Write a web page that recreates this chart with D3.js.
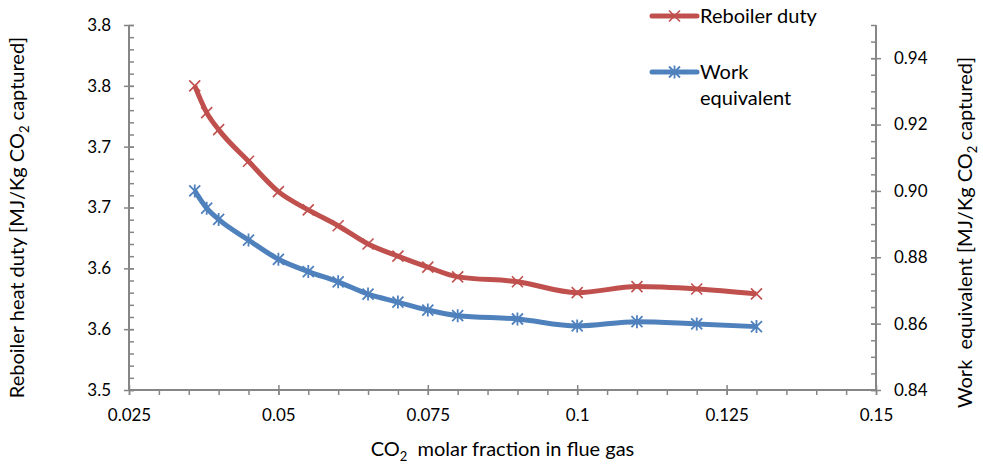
<!DOCTYPE html>
<html>
<head>
<meta charset="utf-8">
<script src="https://cdn.jsdelivr.net/npm/d3@7"></script>
<style>
  body { margin: 0; background: #fff; }
  text { font-family: Lato, "Open Sans", sans-serif; fill: #000; }
</style>
</head>
<body>
<div class="chart"></div>
<script>
var svgWidth = 983;
var svgHeight = 468;

var margin = { top: 25, right: 107, bottom: 78, left: 129 };
var width = svgWidth - margin.left - margin.right;
var height = svgHeight - margin.top - margin.bottom;

// Data
var co2Fraction = [0.036, 0.038, 0.04, 0.045, 0.05, 0.055, 0.06, 0.065, 0.07, 0.075, 0.08, 0.09, 0.1, 0.11, 0.12, 0.13];
var reboilerDuty = [3.750, 3.728, 3.714, 3.688, 3.663, 3.648, 3.635, 3.620, 3.610, 3.601, 3.593, 3.589, 3.580, 3.585, 3.583, 3.579];
var workEquivalent = [0.900, 0.8948, 0.8914, 0.8852, 0.8794, 0.8757, 0.8726, 0.8689, 0.8665, 0.8641, 0.8624, 0.8614, 0.8593, 0.8606, 0.8599, 0.8591];

var xTicks = [0.025, 0.05, 0.075, 0.1, 0.125, 0.15];
var leftTicks = [3.5, 3.55, 3.6, 3.65, 3.7, 3.75, 3.8];
var rightTicks = [0.84, 0.86, 0.88, 0.90, 0.92, 0.94];

var red = "#C0504D";
var blue = "#4F81BD";
var axisColor = "#868686";

var svg = d3.select(".chart")
  .append("svg")
  .attr("width", svgWidth)
  .attr("height", svgHeight);

var chartGroup = svg.append("g")
  .attr("transform", `translate(${margin.left}, ${margin.top})`);

// Scales
var xScale = d3.scaleLinear().domain([0.025, 0.15]).range([0, width]);
var yLeft = d3.scaleLinear().domain([3.5, 3.8]).range([height, 0]);
var yRight = d3.scaleLinear().domain([0.84, 0.95]).range([height, 0]);

// Minor ticks first
function minorTicks(step, start, end) {
  var out = [];
  for (var i = 0; start + i * step <= end + 1e-9; i++) out.push(+(start + i * step).toFixed(5));
  return out;
}

chartGroup.append("g")
  .attr("transform", `translate(0, ${height})`)
  .call(d3.axisBottom(xScale).tickValues(minorTicks(0.005, 0.025, 0.15)).tickSize(5).tickFormat(""))
  .call(g => g.select(".domain").remove());

chartGroup.append("g")
  .call(d3.axisRight(yLeft).tickValues(minorTicks(0.01, 3.5, 3.8)).tickSize(5).tickFormat(""))
  .call(g => g.select(".domain").remove());

chartGroup.append("g")
  .attr("transform", `translate(${width}, 0)`)
  .call(d3.axisLeft(yRight).tickValues(minorTicks(0.005, 0.84, 0.95)).tickSize(5).tickFormat(""))
  .call(g => g.select(".domain").remove());

// Major axes (Excel shows the left labels rounded half up to one decimal)
var bottomAxis = d3.axisBottom(xScale).tickValues(xTicks).tickSize(5).tickPadding(14)
  .tickFormat(d => String(+d.toFixed(3)));
var leftAxis = d3.axisLeft(yLeft).tickValues(leftTicks).tickSize(5).tickPadding(13)
  .tickFormat(d => (Math.round(d * 10 + 1e-6) / 10).toFixed(1));
var rightAxis = d3.axisRight(yRight).tickValues(rightTicks).tickSize(5).tickPadding(13)
  .tickFormat(d3.format(".2f"));

var xAxisG = chartGroup.append("g").attr("transform", `translate(0, ${height})`).call(bottomAxis);
var lAxisG = chartGroup.append("g").call(leftAxis);
var rAxisG = chartGroup.append("g").attr("transform", `translate(${width}, 0)`).call(rightAxis);

[xAxisG, lAxisG, rAxisG].forEach(function(g) {
  g.selectAll("text").style("font-size", "17px");
  g.select(".domain").attr("d", null);
});
xAxisG.selectAll(".tick line").attr("y1", -5);
lAxisG.selectAll(".tick line").attr("x1", 5);
rAxisG.selectAll(".tick line").attr("x1", -5);

chartGroup.selectAll(".tick line").attr("stroke", axisColor).attr("stroke-width", 1.5);

// axis lines
chartGroup.append("line").attr("x1", 0).attr("x2", width).attr("y1", height).attr("y2", height)
  .attr("stroke", axisColor).attr("stroke-width", 2);
chartGroup.append("line").attr("x1", 0).attr("x2", 0).attr("y1", 0).attr("y2", height)
  .attr("stroke", axisColor).attr("stroke-width", 2);
chartGroup.append("line").attr("x1", width).attr("x2", width).attr("y1", 0).attr("y2", height)
  .attr("stroke", axisColor).attr("stroke-width", 2);

// Lines
var redData = co2Fraction.map((x, i) => ({ x: x, y: reboilerDuty[i] }));
var blueData = co2Fraction.map((x, i) => ({ x: x, y: workEquivalent[i] }));

var redLine = d3.line().x(d => xScale(d.x)).y(d => yLeft(d.y)).curve(d3.curveMonotoneX);
var blueLine = d3.line().x(d => xScale(d.x)).y(d => yRight(d.y)).curve(d3.curveMonotoneX);

chartGroup.append("path").datum(redData).attr("d", redLine)
  .attr("fill", "none").attr("stroke", red).attr("stroke-width", 5).attr("stroke-linejoin", "round");
chartGroup.append("path").datum(blueData).attr("d", blueLine)
  .attr("fill", "none").attr("stroke", blue).attr("stroke-width", 5).attr("stroke-linejoin", "round");

// Markers
var s = 5.5;
function crossPath(cx, cy) {
  return `M${cx - s},${cy - s}L${cx + s},${cy + s}M${cx - s},${cy + s}L${cx + s},${cy - s}`;
}
function starPath(cx, cy) {
  return crossPath(cx, cy) + `M${cx},${cy - s - 1}L${cx},${cy + s + 1}`;
}

chartGroup.append("g").selectAll("path")
  .data(redData).enter().append("path")
  .attr("d", d => crossPath(xScale(d.x), yLeft(d.y)))
  .attr("stroke", red).attr("stroke-width", 1.6).attr("fill", "none");

chartGroup.append("g").selectAll("path")
  .data(blueData).enter().append("path")
  .attr("d", d => starPath(xScale(d.x), yRight(d.y)))
  .attr("stroke", blue).attr("stroke-width", 1.8).attr("fill", "none");

// Axis titles
function titleWithSub(sel, before, after) {
  sel.append("tspan").text(before);
  sel.append("tspan").attr("dy", 5).style("font-size", "13px").text("2");
  sel.append("tspan").attr("dy", -5).text(after);
}

var leftTitle = svg.append("text")
  .attr("transform", `translate(24, ${margin.top + height / 2 + 10}) rotate(-90)`)
  .attr("text-anchor", "middle")
  .style("font-size", "20px");
titleWithSub(leftTitle, "Reboiler heat duty [MJ/Kg CO", " captured]");

var rightTitle = svg.append("text")
  .attr("transform", `translate(972, ${margin.top + height / 2 + 25}) rotate(-90)`)
  .attr("text-anchor", "middle")
  .style("font-size", "20px")
  .attr("xml:space", "preserve");
titleWithSub(rightTitle, "Work  equivalent [MJ/Kg CO", " captured]");

var xTitle = svg.append("text")
  .attr("x", margin.left + width / 2)
  .attr("y", 456)
  .attr("text-anchor", "middle")
  .style("font-size", "20px")
  .attr("xml:space", "preserve");
titleWithSub(xTitle, "CO", "  molar fraction in flue gas");

// Legend
var legend = svg.append("g");
legend.append("line").attr("x1", 652).attr("x2", 697).attr("y1", 16).attr("y2", 16)
  .attr("stroke", red).attr("stroke-width", 5).attr("stroke-linecap", "round");
legend.append("path").attr("d", crossPath(674.5, 16)).attr("stroke", red).attr("stroke-width", 1.6);
legend.append("text").attr("x", 700).attr("y", 23).style("font-size", "20px").text("Reboiler duty");

legend.append("line").attr("x1", 652).attr("x2", 697).attr("y1", 72).attr("y2", 72)
  .attr("stroke", blue).attr("stroke-width", 5).attr("stroke-linecap", "round");
legend.append("path").attr("d", starPath(674.5, 72)).attr("stroke", blue).attr("stroke-width", 1.8);
legend.append("text").attr("x", 700).attr("y", 79).style("font-size", "20px").text("Work");
legend.append("text").attr("x", 700).attr("y", 105).style("font-size", "20px").text("equivalent");
</script>
</body>
</html>
